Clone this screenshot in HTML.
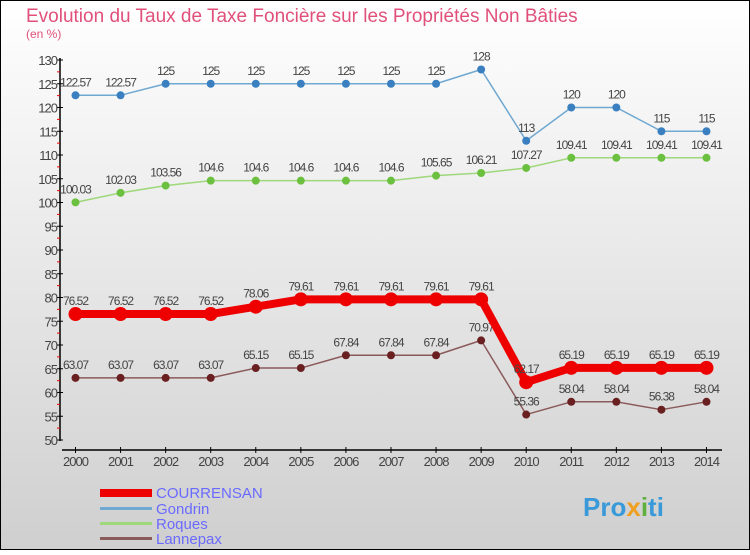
<!DOCTYPE html>
<html><head><meta charset="utf-8"><style>
html,body{margin:0;padding:0}
body{width:750px;height:550px;overflow:hidden;font-family:"Liberation Sans",sans-serif}
</style></head><body>
<svg id="chart" width="750" height="550" xmlns="http://www.w3.org/2000/svg" font-family="Liberation Sans, sans-serif">
<defs><linearGradient id="bg" x1="0" y1="0" x2="0" y2="1"><stop offset="0" stop-color="#ffffff"/><stop offset="1" stop-color="#cfcfcf"/></linearGradient></defs>
<rect x="0.5" y="0.5" width="749" height="549" fill="url(#bg)" stroke="#000"/>
<text x="26" y="22" font-size="19" fill="#e0507a">Evolution du Taux de Taxe Foncière sur les Propriétés Non Bâties</text>
<text x="26" y="38" font-size="12" fill="#e0507a">(en %)</text>
<g id="axes"></g>
<g id="series"></g>
<g id="legend">
<rect x="100" y="489" width="52" height="8" fill="#ee0000"/>
<text x="156" y="498" font-size="15" fill="#6a6aff">COURRENSAN</text>
<rect x="100" y="507" width="52" height="3" fill="#6fa8d0"/>
<text x="156" y="514" font-size="15" fill="#6a6aff">Gondrin</text>
<rect x="100" y="522" width="52" height="3" fill="#9ed87a"/>
<text x="156" y="529" font-size="15" fill="#6a6aff">Roques</text>
<rect x="100" y="537" width="52" height="3" fill="#8a5a5a"/>
<text x="156" y="544" font-size="15" fill="#6a6aff">Lannepax</text>
</g>
<g font-size="26" font-weight="bold">
<text x="583" y="516" fill="#3a9ad9">Pro<tspan fill="#f0a020">x</tspan><tspan fill="#60b040">i</tspan><tspan fill="#3a9ad9">ti</tspan></text>
</g>
</svg>
<script>
const years=[2000,2001,2002,2003,2004,2005,2006,2007,2008,2009,2010,2011,2012,2013,2014];
const courrensan=[76.52,76.52,76.52,76.52,78.06,79.61,79.61,79.61,79.61,79.61,62.17,65.19,65.19,65.19,65.19];
const gondrin=[122.57,122.57,125,125,125,125,125,125,125,128,113,120,120,115,115];
const roques=[100.03,102.03,103.56,104.6,104.6,104.6,104.6,104.6,105.65,106.21,107.27,109.41,109.41,109.41,109.41];
const lannepax=[63.07,63.07,63.07,63.07,65.15,65.15,67.84,67.84,67.84,70.97,55.36,58.04,58.04,56.38,58.04];
const yTicks=[50,55,60,65,70,75,80,85,90,95,100,105,110,115,120,125,130];
const NS="http://www.w3.org/2000/svg";
const X=i=>75.5+i*45.07;
const Y=v=>440-(v-50)*4.75;
function el(t,a,p){const e=document.createElementNS(NS,t);for(const k in a)e.setAttribute(k,a[k]);p.appendChild(e);return e;}
const ax=document.getElementById('axes');
const yl=el('line',{x1:60,y1:58,x2:60,y2:441,stroke:'#000','stroke-width':1.5},ax);


yTicks.forEach(v=>{
 el('line',{x1:57,x2:63,y1:Y(v),y2:Y(v),stroke:'#000'},ax);
 if(v<130){el('line',{x1:57,x2:60,y1:Y(v+2.5),y2:Y(v+2.5),stroke:'#e00'},ax);}
 const t=el('text',{x:57,y:Y(v)+5,'font-size':13,'text-anchor':'end',fill:'#444','letter-spacing':'-1'},ax);
 
 
 t.textContent=v;
});
const xl=el('line',{x1:62,y1:450,x2:722,y2:450,stroke:'#000','stroke-width':1.5},ax);


years.forEach((y,i)=>{
 el('line',{x1:X(i),x2:X(i),y1:447,y2:453,stroke:'#000'},ax);
 const t=el('text',{x:X(i),y:466,'font-size':13,'text-anchor':'middle',fill:'#444','letter-spacing':'-1'},ax);
 
 
 t.textContent=y;
});
const sg=document.getElementById('series');
function series(name,data,color,w,r,dot){
 const g=el('g',{},sg);
 
 
 const p=el('polyline',{points:data.map((v,i)=>X(i)+','+Y(v)).join(' '),fill:'none',stroke:color,'stroke-width':w,'stroke-linejoin':'round'},g);
 
 
 data.forEach((v,i)=>{
  const c=el('circle',{cx:X(i),cy:Y(v),r:r,fill:dot},g);
  
  
  const t=el('text',{x:X(i),y:Y(v)-9,'font-size':12,'text-anchor':'middle',fill:'#444','letter-spacing':'-1'},g);
  
  
  t.textContent=v;
 });
}
series('gondrin',gondrin,'#6fa8d0',1.5,4,'#3a80c0');
series('roques',roques,'#9ed87a',1.5,4,'#6cc040');
series('lannepax',lannepax,'#8a5a5a',1.5,4,'#6a2020');
series('courrensan',courrensan,'#ee0000',8,7,'#ee0000');
</script>
</body></html>
